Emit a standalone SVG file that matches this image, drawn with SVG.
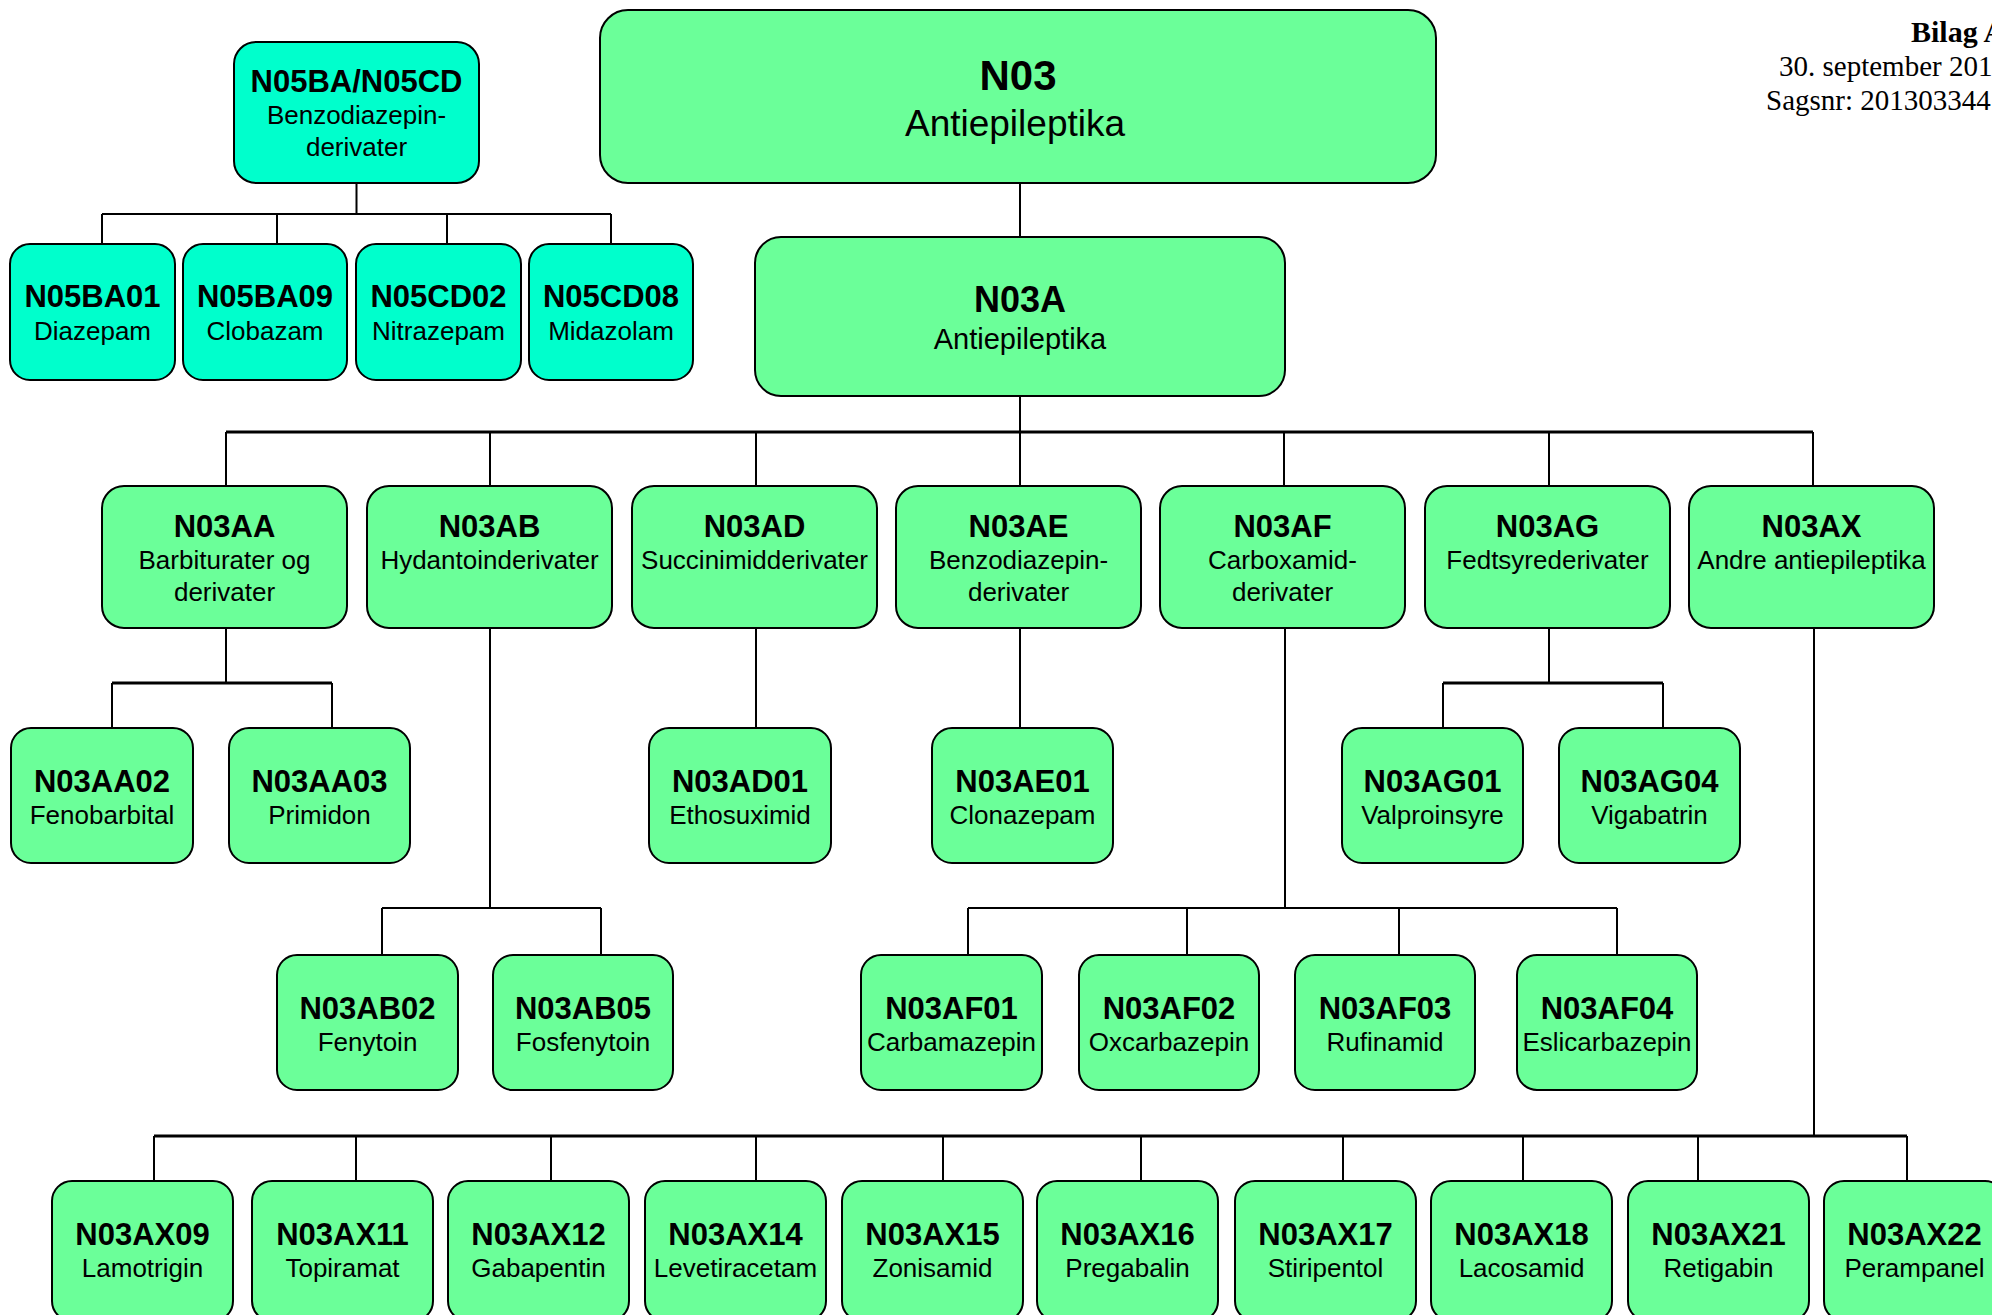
<svg xmlns="http://www.w3.org/2000/svg" width="1992" height="1315" viewBox="0 0 1992 1315">
<style>
.g rect{fill:#6BFF99;stroke:#000;stroke-width:2}
.c rect{fill:#00FFCC;stroke:#000;stroke-width:2}
text{font-family:"Liberation Sans",Arial,sans-serif;text-anchor:middle;fill:#000}
.t{font-weight:bold;font-size:31px}
.s{font-size:26px}
.hdr{font-family:"Liberation Serif","Times New Roman",serif;text-anchor:start;font-size:29px}
#connectors path{fill:none;stroke:#000;stroke-width:2}
#connectors path.b{stroke-width:3}
</style>
<rect width="1992" height="1315" fill="#fff"/>
<g id="connectors">
<path d="M356.5 183V214M102 214H611M102 214V244M277 214V244M447 214V244M611 214V244"/>
<path d="M1020 183V237M1020 396V432M226 432V486M490 432V486M756 432V486M1020 432V486M1284 432V486M1549 432V486M1813 432V486"/>
<path class="b" d="M226 432H1813"/>
<path d="M226 628V683M112 683V728M332 683V728"/>
<path class="b" d="M112 683H332"/>
<path d="M756 628V728M1020 628V728"/>
<path d="M1549 628V683M1443 683V728M1663 683V728"/>
<path class="b" d="M1443 683H1663"/>
<path d="M490 628V908M382 908H601M382 908V955M601 908V955"/>
<path d="M1285 628V908M968 908H1617M968 908V955M1187 908V955M1399 908V955M1617 908V955"/>
<path d="M1814 628V1136M154 1136V1181M356 1136V1181M551 1136V1181M756 1136V1181M943 1136V1181M1141 1136V1181M1343 1136V1181M1523 1136V1181M1698 1136V1181M1907 1136V1181"/>
<path class="b" d="M154 1136H1907"/>
</g>

<g id="n05" class="c"><rect x="234" y="42" width="245" height="141" rx="22"/><text class="t" x="356.5" y="92">N05BA/N05CD</text><text class="s" x="356.5" y="124">Benzodiazepin-</text><text class="s" x="356.5" y="156">derivater</text></g>
<g id="N05BA01" class="c"><rect x="10" y="244" width="165" height="136" rx="20"/><text class="t" x="92.5" y="307">N05BA01</text><text class="s" x="92.5" y="340">Diazepam</text></g>
<g id="N05BA09" class="c"><rect x="183" y="244" width="164" height="136" rx="20"/><text class="t" x="265" y="307">N05BA09</text><text class="s" x="265" y="340">Clobazam</text></g>
<g id="N05CD02" class="c"><rect x="356" y="244" width="165" height="136" rx="20"/><text class="t" x="438.5" y="307">N05CD02</text><text class="s" x="438.5" y="340">Nitrazepam</text></g>
<g id="N05CD08" class="c"><rect x="529" y="244" width="164" height="136" rx="20"/><text class="t" x="611" y="307">N05CD08</text><text class="s" x="611" y="340">Midazolam</text></g>

<g id="N03" class="g"><rect x="600" y="10" width="836" height="173" rx="28"/><text x="1018" y="90" style="font-weight:bold;font-size:42px">N03</text><text x="1015" y="136" style="font-size:37px">Antiepileptika</text></g>
<g id="N03A" class="g"><rect x="755" y="237" width="530" height="159" rx="26"/><text x="1020" y="312" style="font-weight:bold;font-size:36px">N03A</text><text x="1020" y="349" style="font-size:29px">Antiepileptika</text></g>

<g id="N03AA" class="g"><rect x="102" y="486" width="245" height="142" rx="22"/><text class="t" x="224.5" y="537">N03AA</text><text class="s" x="224.5" y="569">Barbiturater og</text><text class="s" x="224.5" y="601">derivater</text></g>
<g id="N03AB" class="g"><rect x="367" y="486" width="245" height="142" rx="22"/><text class="t" x="489.5" y="537">N03AB</text><text class="s" x="489.5" y="569">Hydantoinderivater</text></g>
<g id="N03AD" class="g"><rect x="632" y="486" width="245" height="142" rx="22"/><text class="t" x="754.5" y="537">N03AD</text><text class="s" x="754.5" y="569">Succinimidderivater</text></g>
<g id="N03AE" class="g"><rect x="896" y="486" width="245" height="142" rx="22"/><text class="t" x="1018.5" y="537">N03AE</text><text class="s" x="1018.5" y="569">Benzodiazepin-</text><text class="s" x="1018.5" y="601">derivater</text></g>
<g id="N03AF" class="g"><rect x="1160" y="486" width="245" height="142" rx="22"/><text class="t" x="1282.5" y="537">N03AF</text><text class="s" x="1282.5" y="569">Carboxamid-</text><text class="s" x="1282.5" y="601">derivater</text></g>
<g id="N03AG" class="g"><rect x="1425" y="486" width="245" height="142" rx="22"/><text class="t" x="1547.5" y="537">N03AG</text><text class="s" x="1547.5" y="569">Fedtsyrederivater</text></g>
<g id="N03AX" class="g"><rect x="1689" y="486" width="245" height="142" rx="22"/><text class="t" x="1811.5" y="537">N03AX</text><text class="s" x="1811.5" y="569">Andre antiepileptika</text></g>

<g id="N03AA02" class="g"><rect x="11" y="728" width="182" height="135" rx="20"/><text class="t" x="102" y="792">N03AA02</text><text class="s" x="102" y="824">Fenobarbital</text></g>
<g id="N03AA03" class="g"><rect x="229" y="728" width="181" height="135" rx="20"/><text class="t" x="319.5" y="792">N03AA03</text><text class="s" x="319.5" y="824">Primidon</text></g>
<g id="N03AD01" class="g"><rect x="649" y="728" width="182" height="135" rx="20"/><text class="t" x="740" y="792">N03AD01</text><text class="s" x="740" y="824">Ethosuximid</text></g>
<g id="N03AE01" class="g"><rect x="932" y="728" width="181" height="135" rx="20"/><text class="t" x="1022.5" y="792">N03AE01</text><text class="s" x="1022.5" y="824">Clonazepam</text></g>
<g id="N03AG01" class="g"><rect x="1342" y="728" width="181" height="135" rx="20"/><text class="t" x="1432.5" y="792">N03AG01</text><text class="s" x="1432.5" y="824">Valproinsyre</text></g>
<g id="N03AG04" class="g"><rect x="1559" y="728" width="181" height="135" rx="20"/><text class="t" x="1649.5" y="792">N03AG04</text><text class="s" x="1649.5" y="824">Vigabatrin</text></g>

<g id="N03AB02" class="g"><rect x="277" y="955" width="181" height="135" rx="20"/><text class="t" x="367.5" y="1019">N03AB02</text><text class="s" x="367.5" y="1051">Fenytoin</text></g>
<g id="N03AB05" class="g"><rect x="493" y="955" width="180" height="135" rx="20"/><text class="t" x="583" y="1019">N03AB05</text><text class="s" x="583" y="1051">Fosfenytoin</text></g>
<g id="N03AF01" class="g"><rect x="861" y="955" width="181" height="135" rx="20"/><text class="t" x="951.5" y="1019">N03AF01</text><text class="s" x="951.5" y="1051">Carbamazepin</text></g>
<g id="N03AF02" class="g"><rect x="1079" y="955" width="180" height="135" rx="20"/><text class="t" x="1169" y="1019">N03AF02</text><text class="s" x="1169" y="1051">Oxcarbazepin</text></g>
<g id="N03AF03" class="g"><rect x="1295" y="955" width="180" height="135" rx="20"/><text class="t" x="1385" y="1019">N03AF03</text><text class="s" x="1385" y="1051">Rufinamid</text></g>
<g id="N03AF04" class="g"><rect x="1517" y="955" width="180" height="135" rx="20"/><text class="t" x="1607" y="1019">N03AF04</text><text class="s" x="1607" y="1051">Eslicarbazepin</text></g>

<g id="N03AX09" class="g"><rect x="52" y="1181" width="181" height="140" rx="20"/><text class="t" x="142.5" y="1245">N03AX09</text><text class="s" x="142.5" y="1277">Lamotrigin</text></g>
<g id="N03AX11" class="g"><rect x="252" y="1181" width="181" height="140" rx="20"/><text class="t" x="342.5" y="1245">N03AX11</text><text class="s" x="342.5" y="1277">Topiramat</text></g>
<g id="N03AX12" class="g"><rect x="448" y="1181" width="181" height="140" rx="20"/><text class="t" x="538.5" y="1245">N03AX12</text><text class="s" x="538.5" y="1277">Gabapentin</text></g>
<g id="N03AX14" class="g"><rect x="645" y="1181" width="181" height="140" rx="20"/><text class="t" x="735.5" y="1245">N03AX14</text><text class="s" x="735.5" y="1277">Levetiracetam</text></g>
<g id="N03AX15" class="g"><rect x="842" y="1181" width="181" height="140" rx="20"/><text class="t" x="932.5" y="1245">N03AX15</text><text class="s" x="932.5" y="1277">Zonisamid</text></g>
<g id="N03AX16" class="g"><rect x="1037" y="1181" width="181" height="140" rx="20"/><text class="t" x="1127.5" y="1245">N03AX16</text><text class="s" x="1127.5" y="1277">Pregabalin</text></g>
<g id="N03AX17" class="g"><rect x="1235" y="1181" width="181" height="140" rx="20"/><text class="t" x="1325.5" y="1245">N03AX17</text><text class="s" x="1325.5" y="1277">Stiripentol</text></g>
<g id="N03AX18" class="g"><rect x="1431" y="1181" width="181" height="140" rx="20"/><text class="t" x="1521.5" y="1245">N03AX18</text><text class="s" x="1521.5" y="1277">Lacosamid</text></g>
<g id="N03AX21" class="g"><rect x="1628" y="1181" width="181" height="140" rx="20"/><text class="t" x="1718.5" y="1245">N03AX21</text><text class="s" x="1718.5" y="1277">Retigabin</text></g>
<g id="N03AX22" class="g"><rect x="1824" y="1181" width="181" height="140" rx="20"/><text class="t" x="1914.5" y="1245">N03AX22</text><text class="s" x="1914.5" y="1277">Perampanel</text></g>

<g id="header">
<text class="hdr" x="1911" y="42" style="font-weight:bold;font-size:30px">Bilag A</text>
<text class="hdr" x="1779" y="76">30. september 201</text>
<text class="hdr" x="1766" y="110">Sagsnr: 201303344</text>
</g>
</svg>
